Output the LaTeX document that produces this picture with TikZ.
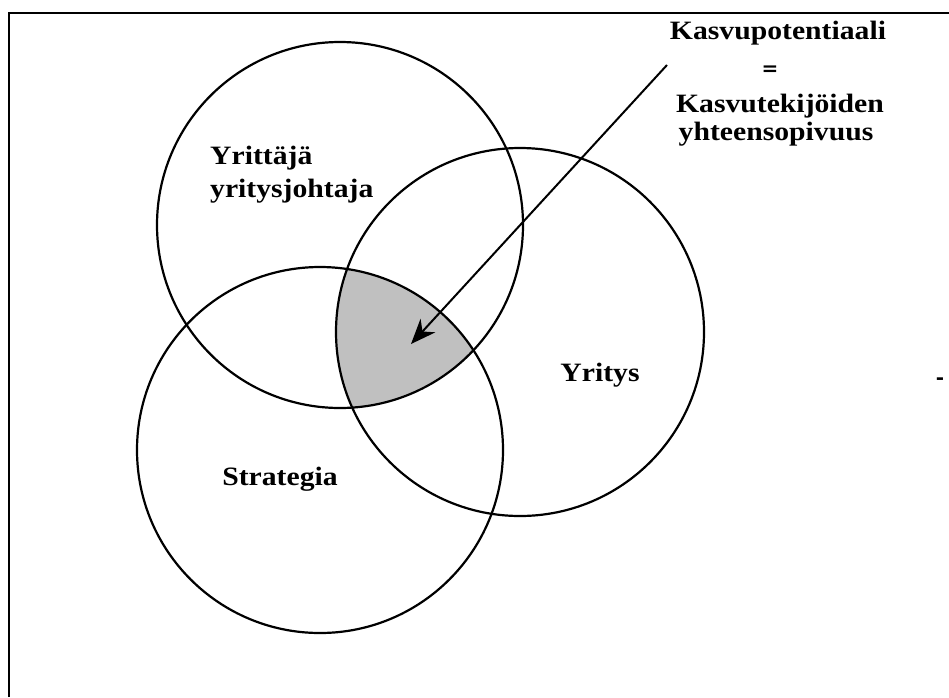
\documentclass[tikz,border=0pt]{standalone}
\usepackage{fontspec}
\setmainfont{Liberation Serif}[FakeStretch=1.12]
\newfontfamily\heavyfont{DejaVu Serif}
\usetikzlibrary{arrows.meta}
\definecolor{areagray}{RGB}{192,192,192}
\begin{document}
\begin{tikzpicture}[x=1pt,y=-1pt,
  ring/.style={draw, circle, line width=2.2pt, minimum size=366pt, inner sep=0pt},
  lbl/.style={font=\fontsize{26.5}{30}\selectfont\bfseries, inner sep=0pt},
  sym/.style={font=\fontsize{20}{24}\heavyfont\bfseries, inner sep=0pt},
  frameline/.style={line width=2.4pt}]
  \useasboundingbox (0,0) rectangle (949,697);

  % frame (only the top and left edges lie inside the page)
  \draw[frameline] (9,697) -- (9,13) -- (949,13);

  % the three circles
  \coordinate (cY) at (340,225);
  \coordinate (cS) at (320,450);
  \coordinate (cF) at (520,332);

  % common area of all three circles
  \begin{scope}
    \clip (cY) circle[radius=183];
    \clip (cS) circle[radius=183];
    \fill[areagray] (cF) circle[radius=184];
  \end{scope}

  \node[ring] (yrittaja) at (cY) {};
  \node[ring] (strategia) at (cS) {};
  \node[ring, minimum size=368pt] (yritys) at (cF) {};

  % labels inside the circles
  \node[lbl, anchor=base west] (t1) at (210,164) {Yrittäjä};
  \node[lbl, anchor=base west] (t2) at (210,197) {yritysjohtaja};
  \node[lbl, anchor=base] (t3) at (280,485) {Strategia};
  \node[lbl, anchor=base] (t4) at (600,381) {Yritys};

  % explanation in the upper right corner
  \node[lbl, anchor=base] (k1) at (778,39) {Kasvupotentiaali};
  \node[sym] (k2) at (770,70.5) {=};
  \node[lbl, anchor=base] (k3) at (780,112) {Kasvutekijöiden};
  \node[lbl, anchor=base] (k4) at (776,140) {yhteensopivuus};
  \node[sym] (dash) at (940,381) {-};

  % pointer into the common area
  \coordinate (pfrom) at (667,65);
  \coordinate (pto) at (411,344);
  \draw[line width=2pt, -{Stealth[length=25pt, width=20pt, inset=8pt]}] (pfrom) -- (pto);
\end{tikzpicture}
\end{document}
